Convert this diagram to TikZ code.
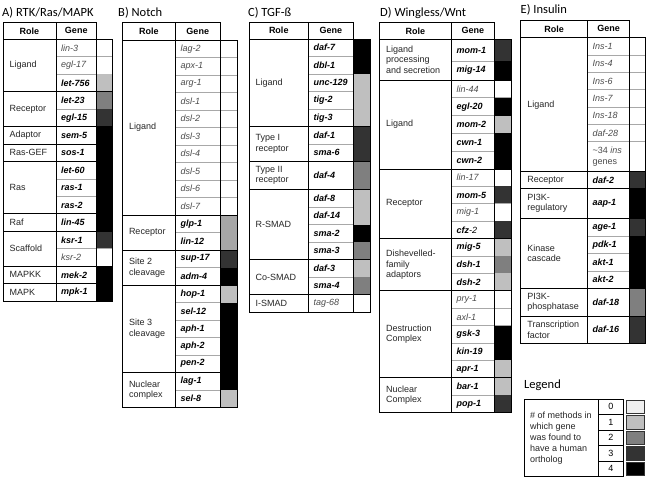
\documentclass[tikz,border=0pt]{standalone}
\usepackage{fontspec}
\setmainfont{Liberation Sans}
\newfontfamily\titlefont{Carlito}
\definecolor{cA}{HTML}{BFBFBF}
\definecolor{cB}{HTML}{7F7F7F}
\definecolor{cC}{HTML}{333333}
\definecolor{cD}{HTML}{000000}
\definecolor{cE}{HTML}{A6A6A6}
\definecolor{cZ}{HTML}{EFEFEF}
\definecolor{sepgray}{HTML}{A8A8A8}
\tikzset{
  bd/.style={draw=black, line width=0.75pt},
  sep/.style={draw=sepgray, line width=0.7pt},
  role/.style={anchor=west, align=left, inner sep=0pt, text=black!85, font=\fontsize{9}{10.5}\selectfont},
  gene/.style={anchor=west, align=left, inner sep=0pt},
  hdr/.style={inner sep=0pt, font=\fontsize{9}{10.5}\selectfont\bfseries},
  ttl/.style={anchor=west, inner sep=0pt, font=\titlefont\fontsize{12.5}{14}\selectfont},
  tx0/.style={font=\fontsize{9}{10.5}\selectfont\itshape, text=black!70},
  tx1/.style={font=\fontsize{9}{10.5}\selectfont\bfseries\itshape, text=black},
  tx2/.style={tx1}, tx3/.style={tx1}, tx4/.style={tx1}, tx5/.style={tx1},
  lv0/.style={fill=white, draw=sepgray, line width=0.7pt},
  lv1/.style={fill=cA}, lv2/.style={fill=cB}, lv3/.style={fill=cC},
  lv4/.style={fill=cD}, lv5/.style={fill=cE},
  sw0/.style={fill=cZ, draw=black!80, line width=0.6pt},
  sw1/.style={fill=cA, draw=black!80, line width=0.6pt},
  sw2/.style={fill=cB, draw=black!80, line width=0.6pt},
  sw3/.style={fill=cC, draw=black!80, line width=0.6pt},
  sw4/.style={fill=cD, draw=black!80, line width=0.6pt}
}
\newcommand\panelhead[3]{%
  \draw[bd] (\xL,#2) rectangle (\xG,#3);
  \draw[bd] (\xM,#2) -- (\xM,#3);
  \node[hdr] (#1role) at ({(\xL+\xM)/2},{(#2+#3)/2}) {Role};
  \node[hdr] (#1gene) at ({(\xM+\xG)/2},{(#2+#3)/2}) {Gene};
  \xdef\cury{#3}}
\newcommand\sect[3]{%
  \xdef\ystart{\cury}%
  \foreach \g/\lv/\gh [count=\k] in {#3} {%
    \pgfmathsetmacro\ynext{\cury+\gh}%
    \path[lv\lv] (\xG,\cury) rectangle (\xC,\ynext);
    \ifnum\k>1 \draw[sep] (\xM,\cury) -- (\xG,\cury);\fi
    \node[gene,tx\lv] (#1g\k) at (\xM+5,{(\cury+\ynext)/2}) {\g};
    \xdef\cury{\ynext}%
  }%
  \node[role] (#1r) at (\xL+6.5,{(\ystart+\cury)/2}) {#2};
  \draw[bd] (\xL,\ystart) rectangle (\xC,\cury);
  \draw[bd] (\xM,\ystart) -- (\xM,\cury) (\xG,\ystart) -- (\xG,\cury);
}
\begin{document}
\begin{tikzpicture}[x=1pt,y=-1pt]
\useasboundingbox[fill=white] (0,0) rectangle (648,479);
% ---------- A ----------
\node[ttl] (tA) at (2,13) {A) RTK/Ras/MAPK};
\def\xL{3}\def\xM{56}\def\xG{96.5}\def\xC{112.5}
\panelhead{a}{22.3}{39.3}
\sect{a1}{Ligand}{lin-3/0/17.45, egl-17/0/17.45, let-756/1/17.45}
\sect{a2}{Receptor}{let-23/2/17.45, egl-15/3/17.45}
\sect{a3}{Adaptor}{sem-5/4/17.45}
\sect{a4}{Ras-GEF}{sos-1/4/17.45}
\sect{a5}{Ras}{let-60/4/17.45, ras-1/4/17.45, ras-2/4/17.45}
\sect{a6}{Raf}{lin-45/4/17.45}
\sect{a7}{Scaffold}{ksr-1/3/17.45, ksr-2/0/17.45}
\sect{a8}{MAPKK}{mek-2/4/17.45}
\sect{a9}{MAPK}{mpk-1/4/17.45}
% ---------- B ----------
\node[ttl] (tB) at (118,13) {B) Notch};
\def\xL{122.3}\def\xM{175.5}\def\xG{220}\def\xC{237}
\panelhead{b}{22.7}{40}
\sect{b1}{Ligand}{lag-2/0/17.5, apx-1/0/17.5, arg-1/0/17.5, dsl-1/0/17.5, dsl-2/0/17.5, dsl-3/0/17.5, dsl-4/0/17.5, dsl-5/0/17.5, dsl-6/0/17.5, dsl-7/0/17.5}
\sect{b2}{Receptor}{glp-1/5/17.5, lin-12/5/17.5}
\sect{b3}{Site 2\\cleavage}{sup-17/3/17.5, adm-4/4/17.5}
\sect{b4}{Site 3\\cleavage}{hop-1/1/17.5, sel-12/4/17.5, aph-1/4/17.5, aph-2/4/17.5, pen-2/4/17.5}
\sect{b5}{Nuclear\\complex}{lag-1/4/17.5, sel-8/1/17.5}
% ---------- C ----------
\node[ttl] (tC) at (248,13) {C) TGF-ß};
\def\xL{249}\def\xM{308.5}\def\xG{353.3}\def\xC{370.5}
\panelhead{c}{22.3}{39}
\sect{c1}{Ligand}{daf-7/4/17.5, dbl-1/4/17.5, unc-129/1/17.5, tig-2/1/17.5, tig-3/1/17.5}
\sect{c2}{Type I\\receptor}{daf-1/3/17.5, sma-6/3/17.5}
\sect{c3}{Type II\\receptor}{daf-4/2/28}
\sect{c4}{R-SMAD}{daf-8/1/17.5, daf-14/1/17.5, sma-2/4/17.5, sma-3/2/17.5}
\sect{c5}{Co-SMAD}{daf-3/1/17.5, sma-4/2/17.5}
\sect{c6}{I-SMAD}{tag-68/0/17.5}
% ---------- D ----------
\node[ttl] (tD) at (380,13) {D) Wingless/Wnt};
\def\xL{379.3}\def\xM{451.5}\def\xG{494.3}\def\xC{511.5}
\panelhead{d}{22.3}{39.3}
\sect{d1}{Ligand\\processing\\and secretion}{mom-1/3/22, mig-14/4/18.7}
\sect{d2}{Ligand}{lin-44/0/17.8, egl-20/4/17.8, mom-2/1/17.8, cwn-1/4/17.8, cwn-2/4/17.8}
\sect{d3}{Receptor}{lin-17/0/17.4, mom-5/3/17.4, mig-1/0/17.4, {cfz\textmd{-2}}/3/17.4}
\sect{d4}{Dishevelled-\\family\\adaptors}{mig-5/1/17.4, dsh-1/2/17.4, dsh-2/1/17.4}
\sect{d5}{Destruction\\Complex}{pry-1/0/17.4, axl-1/0/17.4, gsk-3/4/17.4, kin-19/4/17.4, apr-1/1/17.4}
\sect{d6}{Nuclear\\Complex}{bar-1/1/17.4, pop-1/3/17.4}
% ---------- E ----------
\node[ttl] (tE) at (520.5,10) {E) Insulin};
\def\xL{520.7}\def\xM{587.5}\def\xG{629.7}\def\xC{645.5}
\panelhead{e}{20}{37.7}
\sect{e1}{Ligand}{Ins-1/0/17.3, Ins-4/0/17.3, Ins-6/0/17.3, Ins-7/0/17.3, Ins-18/0/17.3, daf-28/0/17.3, {\textup{\textasciitilde34} \textit{ins}\\\textup{genes}}/0/30.2}
\sect{e2}{Receptor}{daf-2/3/16.8}
\sect{e3}{PI3K-\\regulatory}{aap-1/4/30}
\sect{e4}{Kinase\\cascade}{age-1/3/17.5, pdk-1/4/17.5, akt-1/4/17.5, akt-2/4/17.5}
\sect{e5}{PI3K-\\phosphatase}{daf-18/2/27.5}
\sect{e6}{Transcription\\factor}{daf-16/3/27.3}
% ---------- Legend ----------
\node[ttl] (tL) at (524,385) {Legend};
\draw[bd] (524,399) rectangle (598.3,476.5);
\node[role, font=\fontsize{9}{11}\selectfont] (legtext) at (530,437.75) {\# of methods in\\which gene\\was found to\\have a human\\ortholog};
\foreach \n in {0,...,4} {
  \pgfmathsetmacro\yt{399+15.5*\n}
  \draw[bd] (598.3,\yt) rectangle (623.3,\yt+15.5);
  \node[hdr, font=\fontsize{9}{10.5}\selectfont] (legn\n) at (610.8,\yt+7.75) {\n};
  \path[sw\n] (626.5,\yt+0.8) rectangle (644.3,\yt+14.7);
}
\end{tikzpicture}
\end{document}
